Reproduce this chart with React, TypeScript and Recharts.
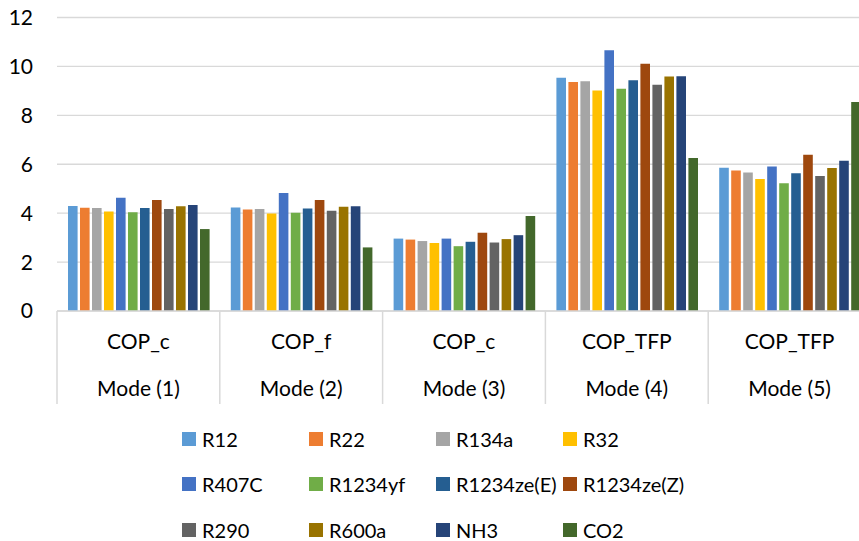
import React from 'react';
import { BarChart, Bar, XAxis, YAxis, CartesianGrid, Legend } from 'recharts';

const modes = ['Mode (1)', 'Mode (2)', 'Mode (3)', 'Mode (4)', 'Mode (5)'];
const metrics = ['COP_c', 'COP_f', 'COP_c', 'COP_TFP', 'COP_TFP'];

const R12 = [4.29, 4.23, 2.96, 9.54, 5.86];
const R22 = [4.22, 4.15, 2.92, 9.36, 5.74];
const R134a = [4.21, 4.17, 2.86, 9.39, 5.66];
const R32 = [4.07, 3.99, 2.78, 9.02, 5.4];
const R407C = [4.63, 4.82, 2.96, 10.66, 5.91];
const R1234yf = [4.04, 4.02, 2.65, 9.09, 5.22];
const R1234zeE = [4.21, 4.19, 2.83, 9.43, 5.63];
const R1234zeZ = [4.54, 4.54, 3.2, 10.11, 6.39];
const R290 = [4.17, 4.1, 2.8, 9.25, 5.52];
const R600a = [4.28, 4.26, 2.94, 9.59, 5.85];
const NH3 = [4.33, 4.28, 3.1, 9.6, 6.14];
const CO2 = [3.35, 2.6, 3.88, 6.26, 8.55];

const yTicks = [0, 2, 4, 6, 8, 10, 12];

const seriesNames = ['R12', 'R22', 'R134a', 'R32', 'R407C', 'R1234yf', 'R1234ze(E)', 'R1234ze(Z)', 'R290', 'R600a', 'NH3', 'CO2'];
const seriesValues = [R12, R22, R134a, R32, R407C, R1234yf, R1234zeE, R1234zeZ, R290, R600a, NH3, CO2];
const seriesColors = ['#5B9BD5', '#ED7D31', '#A5A5A5', '#FFC000', '#4472C4', '#70AD47', '#255E91', '#9E480E', '#636363', '#997300', '#264478', '#43682B'];

const data = modes.map((m, i) => {
  const row: Record<string, string | number> = { mode: m, metric: metrics[i] };
  seriesNames.forEach((s, k) => {
    row[s] = seriesValues[k][i];
  });
  return row;
});

const CHART_W = 871;
const CHART_H = 541;
const Y_W = 57;
const PLOT_W = CHART_W - Y_W;
const BAND = PLOT_W / modes.length;
const X_H = 93;
const FONT = 'Lato, "DejaVu Sans", sans-serif';
const GRID = '#d9d9d9';

const XTick = (props: any) => {
  const { x, y, payload } = props;
  const i = payload.index;
  const half = BAND / 2;
  return (
    <g>
      <line x1={x - half} x2={x - half} y1={y} y2={y + X_H} stroke={GRID} strokeWidth={1.5} />
      {i === modes.length - 1 && (
        <line x1={x + half} x2={x + half} y1={y} y2={y + X_H} stroke={GRID} strokeWidth={1.5} />
      )}
      <text x={x} y={y + 38} textAnchor="middle" fontSize={21} fill="#000" fontFamily={FONT}>
        {metrics[i]}
      </text>
      <text x={x} y={y + 85} textAnchor="middle" fontSize={21} fill="#000" fontFamily={FONT}>
        {payload.value}
      </text>
    </g>
  );
};

const LegendContent = (props: any) => {
  const items = [...(props.payload || [])].sort(
    (a: any, b: any) => seriesNames.indexOf(a.value) - seriesNames.indexOf(b.value)
  );
  return (
    <div style={{ width: 560, height: 137, paddingTop: 12, boxSizing: 'border-box', fontFamily: FONT }}>
      <div style={{ display: 'grid', gridTemplateColumns: 'repeat(4, 127px)', gridAutoRows: '45.5px' }}>
        {items.map((p: any) => (
          <div key={p.value} style={{ display: 'flex', alignItems: 'center', whiteSpace: 'nowrap' }}>
            <span style={{ display: 'inline-block', width: 14, height: 14, background: p.color, marginRight: 6, flexShrink: 0 }} />
            <span style={{ fontSize: 20, color: '#000', lineHeight: '16px' }}>{p.value}</span>
          </div>
        ))}
      </div>
    </div>
  );
};

export default function App() {
  return (
    <div style={{ position: 'absolute', left: 0, top: 0, width: 859, height: 541, overflow: 'hidden', background: '#fff' }}>
      <BarChart
        width={CHART_W}
        height={CHART_H}
        data={data}
        margin={{ top: 17.5, right: 0, left: 0, bottom: 0 }}
        barSize={9.6}
        barGap={2.4}
        style={{ fontFamily: FONT }}
      >
        <CartesianGrid vertical={false} stroke={GRID} strokeWidth={1.4} />
        <XAxis
          dataKey="mode"
          interval={0}
          tickLine={false}
          tickSize={0}
          tickMargin={0}
          height={X_H}
          axisLine={{ stroke: GRID, strokeWidth: 1.5 }}
          tick={<XTick />}
        />
        <YAxis
          width={Y_W}
          domain={[0, 12]}
          ticks={yTicks}
          axisLine={false}
          tickLine={false}
          tickSize={6}
          tickMargin={18}
          tick={{ fontSize: 21, fill: '#000', fontFamily: FONT }}
        />
        <Legend
          verticalAlign="bottom"
          content={<LegendContent />}
          wrapperStyle={{ left: 182, width: 560 }}
        />
        {seriesNames.map((s, k) => (
          <Bar key={s} dataKey={s} name={s} fill={seriesColors[k]} isAnimationActive={false} />
        ))}
      </BarChart>
    </div>
  );
}
